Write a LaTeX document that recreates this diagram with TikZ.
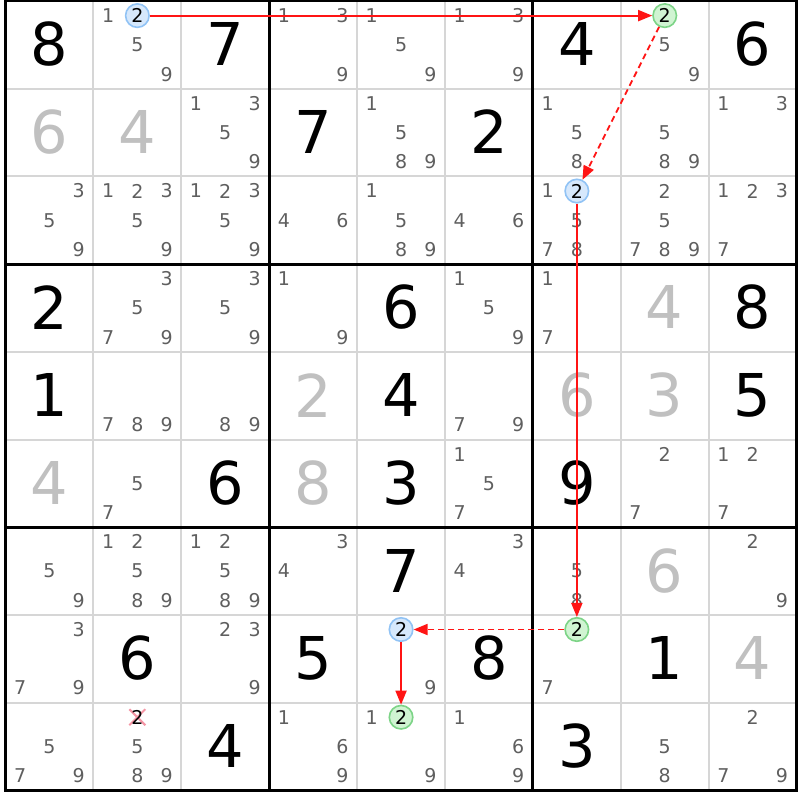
\documentclass[tikz,border=0pt]{standalone}
\usepackage{fontspec}
\setmainfont{DejaVu Sans}
\usetikzlibrary{arrows.meta}
\definecolor{candc}{RGB}{95,95,95}
\definecolor{solvedc}{RGB}{192,192,192}
\definecolor{gridthin}{RGB}{214,214,214}
\definecolor{bluefill}{RGB}{214,232,252}
\definecolor{bluedraw}{RGB}{145,195,245}
\definecolor{greenfill}{RGB}{208,244,210}
\definecolor{greendraw}{RGB}{125,212,135}
\definecolor{crossc}{RGB}{245,150,165}
\definecolor{arrowc}{RGB}{255,20,20}
\newcommand\cand[3]{%
  \pgfmathsetmacro\px{5.5+87.9*(#2-1)+14.65*(2*mod(#3-1,3)+1)}%
  \pgfmathsetmacro\py{1+87.7*(#1-1)+14.617*(2*int((#3-1)/3)+1)}%
  \node[cand] (c-#1-#2-#3) at (\px,\py) {#3};}
\newcommand\cands[3]{\foreach \dd in {#3}{\cand{#1}{#2}{\dd}}}
\newcommand\given[4]{%
  \pgfmathsetmacro\px{5.5+87.9*(#2-1)+43.95}%
  \pgfmathsetmacro\py{1+87.7*(#1-1)+43.35}%
  \node[bigdigit,text=#4] (g-#1-#2) at (\px,\py) {#3};}
\newcommand\hlpos[3]{%
  \pgfmathsetmacro\px{5.5+87.9*(#2-1)+14.65*(2*mod(#3-1,3)+1)}%
  \pgfmathsetmacro\py{1+87.7*(#1-1)+14.617*(2*int((#3-1)/3)+1)}}
\begin{document}
\begin{tikzpicture}[x=1pt,y=-1pt,
  cand/.style={inner sep=0pt,text=candc,font=\fontsize{19}{19}\selectfont},
  bigdigit/.style={inner sep=0pt,font=\fontsize{59}{59}\selectfont},
  thinline/.style={draw=gridthin,line width=2pt},
  thickline/.style={draw=black,line width=3pt},
  hlblue/.style={circle,minimum size=23.5pt,inner sep=0pt,fill=bluefill,draw=bluedraw,line width=1.6pt,text=black,font=\fontsize{19}{19}\selectfont},
  hlgreen/.style={circle,minimum size=23.5pt,inner sep=0pt,fill=greenfill,draw=greendraw,line width=1.6pt,text=black,font=\fontsize{19}{19}\selectfont},
  redarrow/.style={draw=arrowc,line width=1.8pt,-{Triangle[length=14pt,width=11pt]}},
  crossline/.style={draw=crossc,line width=2pt}]
\useasboundingbox (0,0) rectangle (800,800);
\fill[white] (0,0) rectangle (800,800);
% grid
\foreach \i in {1,2,4,5,7,8}{
  \draw[thinline] ({5.5+87.9*\i},1) -- ({5.5+87.9*\i},790.3);
  \draw[thinline] (5.5,{1+87.7*\i}) -- (796.6,{1+87.7*\i});}
\foreach \i in {0,3,6,9}{
  \draw[thickline] ({5.5+87.9*\i},-0.5) -- ({5.5+87.9*\i},791.8);
  \draw[thickline] (4,{1+87.7*\i}) -- (798.1,{1+87.7*\i});}
% givens and solved
\given{1}{1}{8}{black}\given{1}{3}{7}{black}\given{1}{7}{4}{black}\given{1}{9}{6}{black}
\given{2}{1}{6}{solvedc}\given{2}{2}{4}{solvedc}\given{2}{4}{7}{black}\given{2}{6}{2}{black}
\given{4}{1}{2}{black}\given{4}{5}{6}{black}\given{4}{8}{4}{solvedc}\given{4}{9}{8}{black}
\given{5}{1}{1}{black}\given{5}{4}{2}{solvedc}\given{5}{5}{4}{black}\given{5}{7}{6}{solvedc}\given{5}{8}{3}{solvedc}\given{5}{9}{5}{black}
\given{6}{1}{4}{solvedc}\given{6}{3}{6}{black}\given{6}{4}{8}{solvedc}\given{6}{5}{3}{black}\given{6}{7}{9}{black}
\given{7}{5}{7}{black}\given{7}{8}{6}{solvedc}
\given{8}{2}{6}{black}\given{8}{4}{5}{black}\given{8}{6}{8}{black}\given{8}{8}{1}{black}\given{8}{9}{4}{solvedc}
\given{9}{3}{4}{black}\given{9}{7}{3}{black}
% candidates
\cands{1}{2}{1,5,9}\cands{1}{4}{1,3,9}\cands{1}{5}{1,5,9}\cands{1}{6}{1,3,9}\cands{1}{8}{5,9}
\cands{2}{3}{1,3,5,9}\cands{2}{5}{1,5,8,9}\cands{2}{7}{1,5,8}\cands{2}{8}{5,8,9}\cands{2}{9}{1,3}
\cands{3}{1}{3,5,9}\cands{3}{2}{1,2,3,5,9}\cands{3}{3}{1,2,3,5,9}\cands{3}{4}{4,6}\cands{3}{5}{1,5,8,9}\cands{3}{6}{4,6}\cands{3}{7}{1,5,7,8}\cands{3}{8}{2,5,7,8,9}\cands{3}{9}{1,2,3,7}
\cands{4}{2}{3,5,7,9}\cands{4}{3}{3,5,9}\cands{4}{4}{1,9}\cands{4}{6}{1,5,9}\cands{4}{7}{1,7}
\cands{5}{2}{7,8,9}\cands{5}{3}{8,9}\cands{5}{6}{7,9}
\cands{6}{2}{5,7}\cands{6}{6}{1,5,7}\cands{6}{8}{2,7}\cands{6}{9}{1,2,7}
\cands{7}{1}{5,9}\cands{7}{2}{1,2,5,8,9}\cands{7}{3}{1,2,5,8,9}\cands{7}{4}{3,4}\cands{7}{6}{3,4}\cands{7}{7}{5,8}\cands{7}{9}{2,9}
\cands{8}{1}{3,7,9}\cands{8}{3}{2,3,9}\cands{8}{5}{9}\cands{8}{7}{7}
\cands{9}{1}{5,7,9}\cands{9}{2}{5,8,9}\cands{9}{4}{1,6,9}\cands{9}{5}{1,9}\cands{9}{6}{1,6,9}\cands{9}{8}{5,8}\cands{9}{9}{2,7,9}
% crossed-out candidate
\hlpos{9}{2}{2}
\coordinate (xc) at (\px,\py);
\draw[crossline] ([shift={(-8,-8)}]xc) -- ([shift={(8,8)}]xc);
\draw[crossline] ([shift={(-8,8)}]xc) -- ([shift={(8,-8)}]xc);
\node[inner sep=0pt,text=black,font=\fontsize{19}{19}\selectfont] (c-9-2-2) at (xc) {2};
% highlighted candidates
\hlpos{1}{2}{2}\node[hlblue] (h1) at (\px,\py) {2};
\hlpos{1}{8}{2}\node[hlgreen] (h2) at (\px,\py) {2};
\hlpos{3}{7}{2}\node[hlblue] (h3) at (\px,\py) {2};
\hlpos{8}{7}{2}\node[hlgreen] (h4) at (\px,\py) {2};
\hlpos{8}{5}{2}\node[hlblue] (h5) at (\px,\py) {2};
\hlpos{9}{5}{2}\node[hlgreen] (h6) at (\px,\py) {2};
% chain
\draw[redarrow] (h1) -- (h2);
\draw[redarrow,dash pattern=on 6pt off 4pt] (h2) -- (h3);
\draw[redarrow] (h3) -- (h4);
\draw[redarrow,dash pattern=on 6pt off 4pt] (h4) -- (h5);
\draw[redarrow] (h5) -- (h6);
\end{tikzpicture}
\end{document}
